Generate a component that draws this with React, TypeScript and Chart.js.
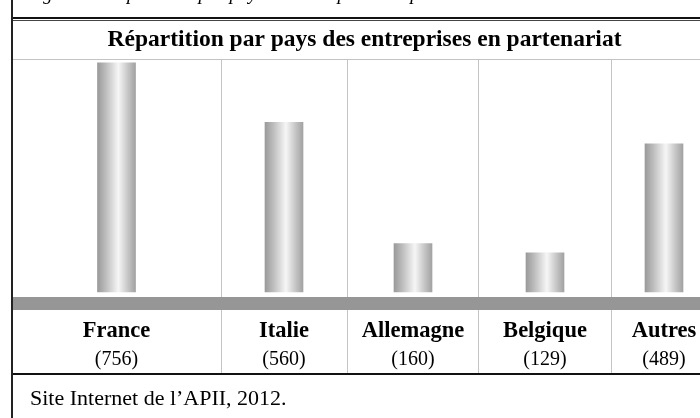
import React, { useEffect, useRef } from 'react';
import { Chart, registerables } from 'chart.js';

Chart.register(...registerables);

// ---- data ----
const categories = ['France', 'Italie', 'Allemagne', 'Belgique', 'Autres'];
const companies = [756, 560, 160, 129, 489];

// ---- texts ----
const chartTitle = 'Répartition par pays des entreprises en partenariat';
const figureCaption = 'Figure 5 : Répartition par pays des entreprises en partenariat';
const sourceText = 'Site Internet de l’APII, 2012.';

// ---- layout (table column widths, relative units) ----
const columnWidths = [209, 126, 132, 132, 106];
const Y_MIN = -38;
const Y_MAX = 769;

const boundaries: number[] = [0];
columnWidths.forEach((w, i) => boundaries.push(boundaries[i] + w));
const total = boundaries[boundaries.length - 1];
const centers = columnWidths.map((w, i) => boundaries[i] + w / 2);

const serif = "'Liberation Serif', 'Times New Roman', Times, serif";

const labelPlugin = {
  id: 'cellLabels',
  afterDraw(chart: any) {
    const xs = chart.scales.x;
    const ctx = chart.ctx;
    const top = chart.chartArea.bottom;
    ctx.save();
    ctx.fillStyle = '#000';
    ctx.textAlign = 'center';
    ctx.textBaseline = 'alphabetic';
    categories.forEach((name, i) => {
      const px = xs.getPixelForValue(centers[i]);
      ctx.font = `bold 22.5px ${serif}`;
      ctx.fillText(name, px, top + 33.5);
      ctx.font = `20px ${serif}`;
      ctx.fillText(`(${companies[i]})`, px, top + 61.5);
    });
    ctx.restore();
  },
};

export default function App() {
  const canvasRef = useRef<HTMLCanvasElement | null>(null);

  useEffect(() => {
    const canvas = canvasRef.current;
    if (!canvas) return;
    const chart = new Chart(canvas, {
      type: 'bar',
      data: {
        datasets: [
          {
            data: centers.map((c, i) => ({ x: c, y: companies[i] })),
            backgroundColor: (ctx: any) => {
              const ch = ctx.chart;
              const xs = ch.scales && ch.scales.x;
              if (!xs || ctx.dataIndex === undefined) return '#c0c0c0';
              const px = xs.getPixelForValue(centers[ctx.dataIndex]);
              if (!isFinite(px)) return '#c0c0c0';
              const g = ch.ctx.createLinearGradient(px - 19, 0, px + 19, 0);
              g.addColorStop(0, '#9a9a9a');
              g.addColorStop(0.22, '#bdbdbd');
              g.addColorStop(0.55, '#f6f6f6');
              g.addColorStop(0.8, '#c6c6c6');
              g.addColorStop(1, '#a2a2a2');
              return g;
            },
            borderWidth: 0,
            barThickness: 38,
          } as any,
        ],
      },
      options: {
        animation: false,
        responsive: false,
        maintainAspectRatio: false,
        events: [],
        layout: { padding: { top: 0, left: 12, right: 23, bottom: 43.5 } },
        plugins: {
          legend: { display: false },
          tooltip: { enabled: false },
          title: {
            display: true,
            text: chartTitle,
            color: '#000',
            font: { family: serif, size: 23.5, weight: 'bold' },
            padding: { top: 25.7, bottom: 5.1 },
          },
        },
        scales: {
          x: {
            type: 'linear',
            position: 'bottom',
            offset: false,
            min: 0,
            max: total,
            afterBuildTicks: (s: any) => {
              s.ticks = boundaries.map((v) => ({ value: v }));
            },
            grid: {
              display: true,
              offset: false,
              drawOnChartArea: true,
              drawTicks: true,
              tickLength: 71,
              lineWidth: 1,
              color: '#c4c4c4',
              tickColor: '#c4c4c4',
            },
            border: { display: true, color: '#969696', width: 13 },
            ticks: { display: false },
          },
          y: { display: false, min: Y_MIN, max: Y_MAX },
        },
      } as any,
      plugins: [labelPlugin],
    });
    return () => chart.destroy();
  }, []);

  const abs = (s: React.CSSProperties): React.CSSProperties => ({ position: 'absolute', ...s });

  return (
    <div
      style={{
        position: 'fixed',
        left: 0,
        top: 0,
        width: 700,
        height: 418,
        overflow: 'hidden',
        background: '#fff',
      }}
    >
      <canvas
        ref={canvasRef}
        width={740}
        height={418}
        style={{ position: 'absolute', left: 0, top: 0, width: 740, height: 418 }}
      />
      <div
        style={abs({
          left: 26,
          top: -16,
          fontFamily: serif,
          fontStyle: 'italic',
          fontSize: 19,
          lineHeight: '19px',
          whiteSpace: 'nowrap',
          color: '#000',
        })}
      >
        {figureCaption}
      </div>
      <div style={abs({ left: 0, top: 0, width: 11, height: 418, background: '#fff' })} />
      <div style={abs({ left: 12, top: 17, width: 688, height: 2, background: '#111' })} />
      <div style={abs({ left: 12, top: 20, width: 688, height: 1, background: '#444' })} />
      <div style={abs({ left: 12, top: 59, width: 688, height: 1, background: '#c4c4c4' })} />
      <div style={abs({ left: 12, top: 373, width: 688, height: 2, background: '#111' })} />
      <div style={abs({ left: 11, top: 0, width: 2, height: 418, background: '#222' })} />
      <div
        style={abs({
          left: 30,
          top: 386.6,
          fontFamily: serif,
          fontSize: 22,
          lineHeight: '22px',
          whiteSpace: 'nowrap',
          color: '#000',
        })}
      >
        {sourceText}
      </div>
    </div>
  );
}
